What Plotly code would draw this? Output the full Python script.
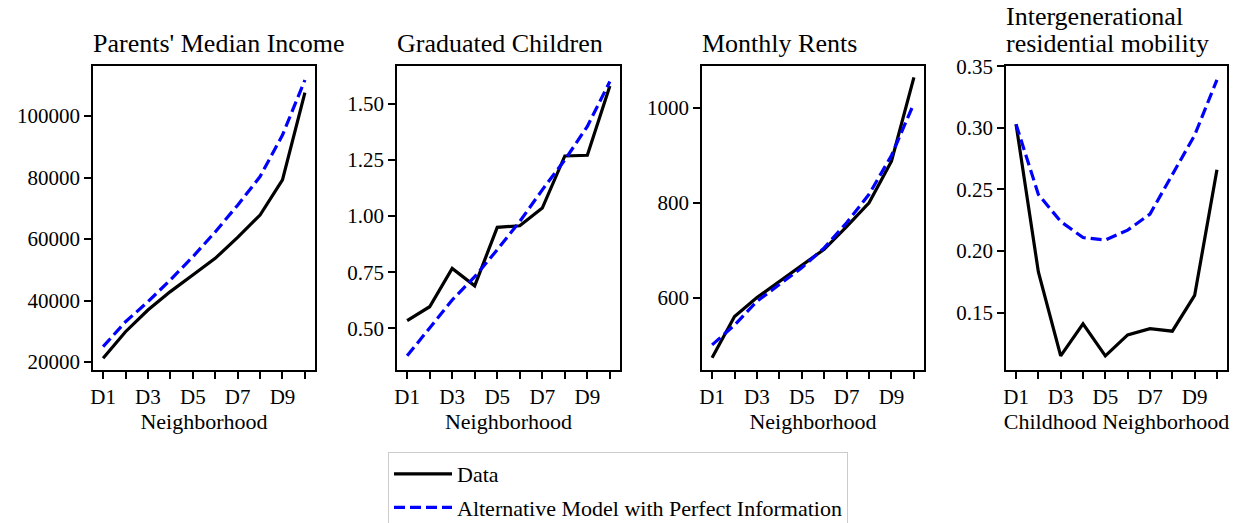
import plotly.graph_objects as go

categories = ["D1", "D2", "D3", "D4", "D5", "D6", "D7", "D8", "D9", "D10"]

income_data = [21200, 29850, 36900, 42900, 48300, 53700, 60500, 67800, 79200, 107600]
income_model = [25000, 33100, 39600, 46700, 54200, 62300, 71000, 80300, 93800, 111700]

grad_data = [0.534, 0.596, 0.767, 0.689, 0.950, 0.957, 1.036, 1.268, 1.271, 1.580]
grad_model = [0.377, 0.500, 0.626, 0.730, 0.850, 0.976, 1.117, 1.250, 1.400, 1.600]

rent_data = [473, 560, 600, 634, 669, 702, 750, 800, 888, 1065]
rent_model = [500, 542, 592, 627, 663, 705, 758, 818, 900, 1010]

mob_data = [0.303, 0.183, 0.115, 0.141, 0.115, 0.132, 0.137, 0.135, 0.164, 0.266]
mob_model = [0.303, 0.246, 0.224, 0.211, 0.209, 0.217, 0.230, 0.262, 0.294, 0.339]

titles = [["Parents' Median Income"], ["Graduated Children"], ["Monthly Rents"],
          ["Intergenerational", "residential mobility"]]
xlabels = ["Neighborhood", "Neighborhood", "Neighborhood", "Childhood Neighborhood"]
legend_names = ["Data", "Alternative Model with Perfect Information"]

panels = [
    (income_data, income_model, [17400, 116260], [20000, 40000, 60000, 80000, 100000], "d"),
    (grad_data, grad_model, [0.314, 1.669], [0.5, 0.75, 1.0, 1.25, 1.5], ".2f"),
    (rent_data, rent_model, [447, 1089], [600, 800, 1000], "d"),
    (mob_data, mob_model, [0.1035, 0.3502], [0.15, 0.2, 0.25, 0.3, 0.35], ".2f"),
]

W, H = 1233, 523
x_px = [(93, 315), (397, 620), (702, 924), (1006, 1227)]
y_top, y_bot = 66, 370

FONT = "Liberation Serif, Times New Roman, serif"
TICK = 21
LABEL = 22
TITLE = 26
LEG = 22

fig = go.Figure()
layout = dict(
    width=W, height=H,
    margin=dict(l=0, r=0, t=0, b=0, autoexpand=False),
    paper_bgcolor="white", plot_bgcolor="white",
    font=dict(family=FONT, size=TICK, color="black"),
    showlegend=True,
    legend=dict(x=388 / W, y=1 - 452 / H, xanchor="left", yanchor="top",
                bordercolor="#cccccc", borderwidth=1, bgcolor="white",
                font=dict(family=FONT, size=LEG, color="black"),
                tracegroupgap=2, traceorder="grouped", itemwidth=58),
    annotations=[],
)

ticktext = [c if i % 2 == 0 else "" for i, c in enumerate(categories)]

for i, (d, m, yr, yt, fmt) in enumerate(panels):
    xa = "x" if i == 0 else f"x{i+1}"
    ya = "y" if i == 0 else f"y{i+1}"
    fig.add_trace(go.Scatter(x=categories, y=d, mode="lines", name=legend_names[0],
                             line=dict(color="black", width=3.2),
                             xaxis=xa, yaxis=ya, showlegend=(i == 0), legendgroup="data"))
    fig.add_trace(go.Scatter(x=categories, y=m, mode="lines", name=legend_names[1],
                             line=dict(color="blue", width=3.2, dash="11px,5px"),
                             xaxis=xa, yaxis=ya, showlegend=(i == 0), legendgroup="model"))
    x0, x1 = x_px[i]
    axkey = "xaxis" if i == 0 else f"xaxis{i+1}"
    aykey = "yaxis" if i == 0 else f"yaxis{i+1}"
    layout[axkey] = dict(
        domain=[x0 / W, x1 / W], anchor=ya, type="category", automargin=False,
        range=[-0.45, 9.45], tickmode="array", tickvals=categories, ticktext=ticktext,
        ticks="outside", ticklen=7, tickwidth=1.5, tickcolor="black",
        showline=True, linecolor="black", linewidth=1.5, mirror=True,
        showgrid=False, zeroline=False,
        tickfont=dict(family=FONT, size=TICK, color="black"),
        title=dict(text=xlabels[i], font=dict(family=FONT, size=LABEL, color="black"), standoff=6),
    )
    layout[aykey] = dict(
        domain=[1 - y_bot / H, 1 - y_top / H], anchor=xa, automargin=False,
        range=yr, tickmode="array", tickvals=yt, tickformat=fmt,
        ticks="outside", ticklen=7, tickwidth=1.5, tickcolor="black",
        showline=True, linecolor="black", linewidth=1.5, mirror=True,
        showgrid=False, zeroline=False,
        tickfont=dict(family=FONT, size=TICK, color="black"),
    )
    lines = titles[i]
    for k, line in enumerate(reversed(lines)):
        layout["annotations"].append(dict(
            text=line, xref="paper", yref="paper", x=x0 / W,
            y=1 - (y_top - 6 - 27 * k) / H,
            xanchor="left", yanchor="bottom", align="left", showarrow=False,
            xshift=-2,
            font=dict(family=FONT, size=TITLE, color="black"),
        ))

fig.update_layout(**layout)
fig.write_html("out.html", config={"displayModeBar": False},
               post_script="document.body.style.margin='0';document.body.style.overflow='hidden';")
